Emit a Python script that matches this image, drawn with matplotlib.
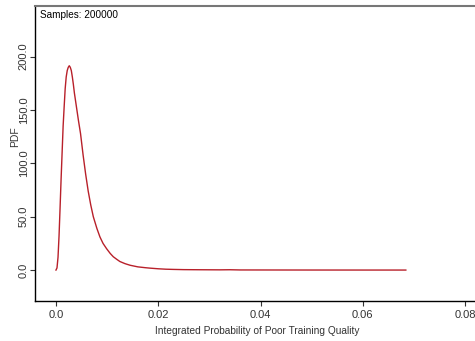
import matplotlib
matplotlib.use("Agg")
import matplotlib.pyplot as plt

# PDF curve
prob = [0.0, 0.0002, 0.0004, 0.0006, 0.0008, 0.0010, 0.0012, 0.0014, 0.0016,
        0.0018, 0.0020, 0.0022, 0.0024, 0.0026, 0.0028, 0.0030, 0.0032, 0.0034,
        0.0036, 0.0040, 0.0044, 0.0048, 0.0053, 0.0058, 0.0063, 0.0068, 0.0073,
        0.0080, 0.0086, 0.0092, 0.0099, 0.0106, 0.0112, 0.0119, 0.0125, 0.0135,
        0.0145, 0.0160, 0.0175, 0.0184, 0.0200, 0.0215, 0.0230, 0.0250, 0.0280,
        0.0300, 0.0320, 0.0340, 0.0360, 0.0400, 0.0450, 0.0500, 0.0550, 0.0600,
        0.0650, 0.0684]
pdf = [0.0, 2.0, 12.0, 32.0, 58.0, 85.0, 110.0, 135.0, 153.0,
       170.0, 181.0, 187.0, 190.0, 191.5, 190.0, 187.0, 181.0, 174.0,
       166.0, 153.0, 140.0, 128.0, 108.0, 90.0, 74.0, 61.0, 50.0,
       39.0, 31.0, 25.0, 20.0, 15.6, 12.5, 10.0, 8.0, 6.0,
       4.5, 3.0, 2.2, 1.8, 1.2, 0.8, 0.6, 0.4, 0.3,
       0.25, 0.2, 0.3, 0.1, 0.08, 0.05, 0.03, 0.02, 0.01,
       0.01, 0.0]

x_ticks = [0.0, 0.02, 0.04, 0.06, 0.08]
x_labels = ["0.0", "0.02", "0.04", "0.06", "0.08"]
y_ticks = [0, 50, 100, 150, 200]
y_labels = ["0.0", "50.0", "100.0", "150.0", "200.0"]

plt.rcParams['font.family'] = ['Liberation Sans', 'DejaVu Sans']

fig = plt.figure(figsize=(4.75, 3.41), dpi=100)
ax = fig.add_axes([35 / 475, 40 / 341, 445 / 475, 295 / 341])

ax.plot(prob, pdf, color='#b8202a', linewidth=1.0)

ax.set_xlim(-0.0041, 0.0829)
ax.set_ylim(-29, 247.5)

ax.set_xticks(x_ticks)
ax.set_xticklabels(x_labels)
ax.set_yticks(y_ticks)
ax.set_yticklabels(y_labels, rotation=90, va='center')
ax.tick_params(direction='out', length=3.5, width=0.8, labelsize=8,
               colors='#333333')
ax.tick_params(axis='x', pad=3)
ax.tick_params(axis='y', pad=1)

for side in ['left', 'bottom']:
    ax.spines[side].set_color('black')
    ax.spines[side].set_linewidth(1.0)
ax.spines['top'].set_color('#777777')
ax.spines['top'].set_linewidth(1.5)

ax.set_xlabel("Integrated Probability of Poor Training Quality", fontsize=7.3,
              color='#333333', labelpad=4)
ax.set_ylabel("PDF", fontsize=7.5, color='#333333', va='center')
ax.yaxis.set_label_coords(-0.045, 0.556)

ax.text(0.012, 0.985, "Samples: 200000", transform=ax.transAxes,
        fontsize=7.2, color='black', ha='left', va='top')

fig.savefig("out.png", dpi=100)
